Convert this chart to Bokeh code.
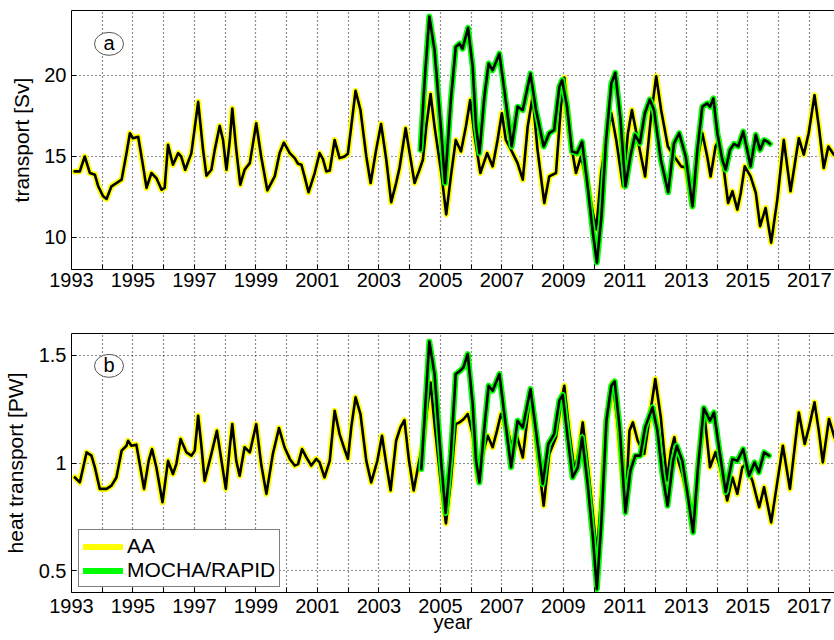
from bokeh.plotting import figure
from bokeh.layouts import column
from bokeh.models import FixedTicker, Legend, LegendItem, Label, Range1d, LinearAxis
from bokeh.embed import file_html
from bokeh.resources import INLINE

FONT = "Liberation Sans"

# ---------------- data ----------------
aa_year_a = [1993.1, 1993.27, 1993.43, 1993.6, 1993.76, 1993.87, 1994.03, 1994.14, 1994.3, 1994.46,
             1994.63, 1994.79, 1994.9, 1995.0, 1995.17, 1995.33, 1995.44, 1995.6, 1995.76, 1995.93,
             1996.03, 1996.14, 1996.3, 1996.47, 1996.57, 1996.7, 1996.9, 1997.12, 1997.28, 1997.39,
             1997.55, 1997.66, 1997.82, 1997.93, 1998.04, 1998.15, 1998.23, 1998.36, 1998.49, 1998.63,
             1998.8, 1999.01, 1999.17, 1999.37, 1999.61, 1999.77, 1999.91, 2000.1, 2000.26, 2000.37,
             2000.48, 2000.58, 2000.71, 2000.91, 2001.07, 2001.18, 2001.29, 2001.4, 2001.56, 2001.72,
             2001.88, 2001.99, 2002.1, 2002.24, 2002.4, 2002.59, 2002.73, 2002.91, 2003.07, 2003.24,
             2003.4, 2003.56, 2003.67, 2003.87, 2004.0, 2004.16, 2004.32, 2004.43, 2004.54, 2004.68,
             2004.81, 2005.03, 2005.19, 2005.34, 2005.5, 2005.67, 2005.83, 2005.97, 2006.1, 2006.3,
             2006.52, 2006.7, 2006.86, 2007.0, 2007.13, 2007.3, 2007.51, 2007.68, 2007.84, 2008.0,
             2008.16, 2008.38, 2008.54, 2008.76, 2008.92, 2009.03, 2009.19, 2009.41, 2009.57, 2009.79,
             2009.96, 2010.07, 2010.23, 2010.39, 2010.56, 2010.72, 2010.94, 2011.1, 2011.23, 2011.42,
             2011.66, 2011.85, 2012.02, 2012.18, 2012.4, 2012.61, 2012.83, 2012.98, 2013.2, 2013.36,
             2013.52, 2013.68, 2013.79, 2013.95, 2014.06, 2014.22, 2014.36, 2014.5, 2014.66, 2014.77,
             2014.9, 2015.09, 2015.26, 2015.4, 2015.58, 2015.76, 2015.96, 2016.17, 2016.39, 2016.55,
             2016.66, 2016.82, 2016.98, 2017.17, 2017.31, 2017.47, 2017.62, 2017.8, 2017.95]
aa_val_a = [14.06, 14.06, 14.98, 13.96, 13.86, 13.14, 12.52, 12.36, 13.14, 13.34,
            13.55, 15.19, 16.42, 16.11, 16.2, 14.37, 13.04, 13.96, 13.65, 12.93,
            13.04, 15.7, 14.47, 15.19, 14.98, 14.16, 15.19, 18.36, 15.39, 13.8,
            14.16, 15.39, 16.87, 16.0, 14.16, 16.0, 17.95, 15.39, 13.24, 14.16,
            14.57, 17.03, 14.98, 12.89, 13.75, 15.19, 15.84, 15.19, 14.88, 14.53,
            14.47, 13.75, 12.77, 13.96, 15.19, 14.82, 14.06, 14.12, 16.0, 14.88,
            14.98, 15.15, 16.83, 19.04, 17.85, 14.98, 13.34, 15.39, 16.99, 14.78,
            12.16, 13.34, 14.27, 16.73, 15.19, 13.34, 14.16, 14.78, 16.83, 18.84,
            16.83, 13.96, 11.4, 13.75, 16.0, 15.29, 16.83, 18.47, 16.42, 13.96,
            15.19, 14.37, 16.0, 17.65, 16.0, 15.39, 14.57, 13.55, 16.83, 18.67,
            15.39, 12.11, 13.75, 13.96, 18.06, 19.86, 16.42, 13.96, 14.98, 13.34,
            11.5, 10.48, 13.96, 16.0, 17.65, 16.0, 13.14, 16.42, 17.85, 16.0,
            13.75, 17.44, 19.94, 17.85, 15.6, 14.98, 14.37, 14.3, 11.9, 14.78,
            16.42, 14.98, 13.75, 15.6, 16.0, 14.16, 12.11, 12.83, 11.7, 12.73,
            14.37, 13.75, 12.73, 10.68, 11.8, 9.66, 12.32, 16.0, 12.83, 14.78,
            16.11, 15.09, 16.42, 18.77, 16.83, 14.27, 15.6, 15.09, 15.0]

mocha_year_a = [2004.35, 2004.48, 2004.64, 2004.81, 2005.03, 2005.15, 2005.34, 2005.5, 2005.62, 2005.72,
                2005.9, 2006.05, 2006.16, 2006.27, 2006.43, 2006.57, 2006.7, 2006.92, 2007.08, 2007.32,
                2007.51, 2007.68, 2007.93, 2008.11, 2008.36, 2008.54, 2008.7, 2008.87, 2008.96, 2009.12,
                2009.28, 2009.45, 2009.61, 2009.79, 2009.96, 2010.09, 2010.24, 2010.39, 2010.56, 2010.69,
                2010.85, 2011.02, 2011.18, 2011.33, 2011.49, 2011.65, 2011.81, 2011.95, 2012.17, 2012.41,
                2012.6, 2012.77, 2012.98, 2013.2, 2013.36, 2013.52, 2013.68, 2013.77, 2013.88, 2014.01,
                2014.17, 2014.28, 2014.42, 2014.55, 2014.69, 2014.85, 2014.98, 2015.09, 2015.26, 2015.4,
                2015.53, 2015.64, 2015.72]
mocha_val_a = [15.39, 19.49, 23.63, 21.54, 16.42, 13.34, 18.47, 21.75, 21.95, 21.64,
               22.93, 20.52, 16.83, 15.19, 18.67, 20.72, 20.31, 21.34, 19.08, 15.6,
               18.06, 17.85, 20.1, 17.85, 15.6, 16.42, 16.62, 19.29, 19.7, 18.06,
               15.29, 15.19, 15.9, 13.14, 10.27, 8.43, 11.3, 16.0, 19.49, 20.15,
               17.44, 13.14, 14.98, 16.32, 15.8, 17.65, 18.5, 17.85, 14.78, 12.77,
               15.8, 16.42, 14.98, 11.9, 15.39, 18.06, 18.26, 18.06, 18.57, 16.42,
               14.78, 14.16, 15.39, 15.76, 15.6, 16.52, 15.39, 14.37, 16.32, 15.39,
               16.0, 15.9, 15.76]

aa_year_b = [1993.11, 1993.27, 1993.49, 1993.65, 1993.76, 1993.92, 1994.14, 1994.3, 1994.46, 1994.63,
             1994.79, 1994.84, 1994.95, 1995.11, 1995.22, 1995.36, 1995.51, 1995.62, 1995.76, 1995.96,
             1996.14, 1996.3, 1996.41, 1996.55, 1996.74, 1996.9, 1997.01, 1997.12, 1997.23, 1997.33,
             1997.55, 1997.73, 1997.88, 1998.02, 1998.15, 1998.23, 1998.36, 1998.47, 1998.63, 1998.8,
             1999.01, 1999.17, 1999.34, 1999.55, 1999.75, 1999.93, 2000.1, 2000.26, 2000.37, 2000.5,
             2000.64, 2000.8, 2000.96, 2001.07, 2001.23, 2001.4, 2001.56, 2001.72, 2001.86, 2001.99,
             2002.1, 2002.24, 2002.4, 2002.59, 2002.75, 2002.95, 2003.1, 2003.24, 2003.38, 2003.56,
             2003.7, 2003.83, 2003.98, 2004.13, 2004.29, 2004.43, 2004.56, 2004.68, 2004.81, 2005.03,
             2005.18, 2005.34, 2005.5, 2005.62, 2005.76, 2005.89, 2006.05, 2006.23, 2006.37, 2006.54,
             2006.7, 2006.84, 2006.97, 2007.19, 2007.35, 2007.5, 2007.68, 2007.93, 2008.16, 2008.36,
             2008.54, 2008.76, 2008.92, 2009.03, 2009.19, 2009.36, 2009.49, 2009.63, 2009.79, 2009.96,
             2010.09, 2010.24, 2010.4, 2010.6, 2010.76, 2011.02, 2011.15, 2011.26, 2011.42, 2011.63,
             2011.79, 2011.99, 2012.17, 2012.37, 2012.5, 2012.61, 2012.74, 2012.85, 2013.04, 2013.22,
             2013.38, 2013.57, 2013.77, 2013.95, 2014.1, 2014.33, 2014.5, 2014.66, 2014.82, 2014.93,
             2015.15, 2015.37, 2015.53, 2015.76, 2015.9, 2016.14, 2016.37, 2016.5, 2016.66, 2016.85,
             2016.99, 2017.17, 2017.31, 2017.44, 2017.64, 2017.82, 2017.95]
aa_val_b = [0.933, 0.91, 1.049, 1.034, 0.98, 0.88, 0.88, 0.895, 0.933, 1.057,
            1.08, 1.103, 1.08, 1.085, 0.995, 0.88, 1.01, 1.064, 0.98, 0.818,
            1.01, 0.949, 0.995, 1.111, 1.049, 1.034, 1.057, 1.219, 1.073, 0.918,
            1.042, 1.149, 1.01, 0.88, 1.073, 1.18, 1.01, 0.941, 1.073, 1.049,
            1.18, 0.995, 0.857, 1.042, 1.162, 1.073, 1.019, 0.988, 0.995, 1.064,
            1.026, 0.988, 1.019, 1.003, 0.933, 1.01, 1.242, 1.134, 1.073, 1.019,
            1.165, 1.304, 1.226, 1.01, 0.91, 1.01, 1.126, 0.995, 0.873, 1.103,
            1.165, 1.199, 1.01, 0.873, 0.995, 1.088, 1.242, 1.373, 1.18, 0.888,
            0.72, 0.918, 1.18, 1.188, 1.204, 1.227, 1.134, 0.918, 1.042, 1.126,
            1.073, 1.149, 1.227, 1.15, 1.06, 1.12, 1.026, 1.327, 1.042, 0.802,
            1.042, 1.119, 1.273, 1.358, 1.149, 0.964, 1.042, 1.188, 0.995, 0.764,
            0.578, 0.856, 1.196, 1.373, 1.196, 0.779, 1.149, 1.188, 1.103, 1.042,
            1.196, 1.389, 1.211, 0.918, 1.057, 1.119, 1.01, 0.957, 0.856, 0.686,
            0.98, 1.25, 0.98, 1.05, 0.98, 0.826, 0.933, 0.857, 0.98, 0.995,
            0.918, 0.795, 0.888, 0.725, 0.856, 1.08, 0.88, 1.042, 1.234, 1.088,
            1.165, 1.281, 1.149, 1.003, 1.204, 1.119, 1.08]

mocha_year_b = [2004.38, 2004.48, 2004.64, 2004.81, 2005.03, 2005.17, 2005.34, 2005.5, 2005.64, 2005.75,
                2005.89, 2006.05, 2006.16, 2006.27, 2006.43, 2006.57, 2006.7, 2006.92, 2007.08, 2007.3,
                2007.51, 2007.68, 2007.93, 2008.11, 2008.33, 2008.51, 2008.7, 2008.87, 2008.98, 2009.14,
                2009.3, 2009.47, 2009.61, 2009.79, 2009.96, 2010.09, 2010.24, 2010.4, 2010.56, 2010.67,
                2010.83, 2011.02, 2011.18, 2011.34, 2011.5, 2011.66, 2011.9, 2012.06, 2012.22, 2012.39,
                2012.57, 2012.69, 2012.87, 2013.04, 2013.22, 2013.38, 2013.57, 2013.77, 2013.9, 2014.06,
                2014.28, 2014.5, 2014.66, 2014.85, 2015.04, 2015.22, 2015.36, 2015.53, 2015.69]
mocha_val_b = [0.972, 1.196, 1.563, 1.412, 0.995, 0.768, 1.042, 1.412, 1.427, 1.443,
               1.505, 1.273, 1.01, 0.91, 1.165, 1.358, 1.335, 1.412, 1.227, 0.98,
               1.196, 1.165, 1.343, 1.149, 0.903, 1.088, 1.134, 1.289, 1.316, 1.119,
               0.933, 0.98, 1.119, 0.903, 0.656, 0.416, 0.733, 1.196, 1.358, 1.378,
               1.165, 0.771, 0.964, 1.034, 1.034, 1.165, 1.258, 1.149, 0.949, 0.802,
               1.01, 1.08, 1.01, 0.856, 0.679, 0.98, 1.255, 1.196, 1.234, 1.073,
               0.865, 1.019, 1.01, 1.064, 0.941, 1.003, 0.957, 1.049, 1.034]

x_ticks = list(range(1993, 2019))
x_tick_labels = {float(y): (str(y) if y % 2 == 1 else "") for y in x_ticks}
yticks_a = [10, 15, 20]
ylabels_a = {10.0: "10", 15.0: "15", 20.0: "20"}
yticks_b = [0.5, 1.0, 1.5]
ylabels_b = {0.5: "0.5", 1.0: "1", 1.5: "1.5"}
series_names = ["AA", "MOCHA/RAPID"]

X_START, X_END = 1993, 2017.82
YLIM_A = (8, 24)
YLIM_B = (0.4, 1.6)

YELLOW = "#ffff00"
GREEN = "#00ff00"


def make_fig(height, top, bottom, ylim, yticks, ylabels, ylabel, lab_std, x_std, xlabel=None):
    p = figure(width=834, height=height, x_range=Range1d(X_START, X_END), y_range=Range1d(*ylim),
               output_backend="svg", toolbar_location=None,
               min_border_left=70, min_border_right=0, min_border_top=top, min_border_bottom=bottom)
    p.background_fill_color = "white"
    p.border_fill_color = "white"
    p.outline_line_color = None
    xa = p.below[0]
    ya = p.left[0]
    xa.ticker = FixedTicker(ticks=x_ticks)
    xa.major_label_overrides = x_tick_labels
    xa.major_label_standoff = x_std
    if xlabel:
        xa.axis_label = xlabel
        xa.axis_label_standoff = -5
        xa.axis_label_text_font = FONT
        xa.axis_label_text_font_size = "20px"
        xa.axis_label_text_font_style = "normal"
        xa.axis_label_text_color = "black"
    ya.ticker = FixedTicker(ticks=yticks)
    ya.major_label_overrides = ylabels
    ya.axis_label = ylabel
    ya.axis_label_standoff = lab_std
    ya.axis_label_text_font = FONT
    ya.axis_label_text_font_size = "21px"
    ya.axis_label_text_font_style = "normal"
    ya.axis_label_text_color = "black"
    for ax in (xa, ya):
        ax.major_tick_in = 5
        ax.major_tick_out = 0
        ax.minor_tick_in = 0
        ax.minor_tick_out = 0
        ax.axis_line_color = "black"
        ax.major_tick_line_color = "black"
        ax.major_label_text_font = FONT
        ax.major_label_text_font_size = "20px"
        ax.major_label_text_color = "black"
    ya.major_label_standoff = 5
    # top frame edge (the right edge lies outside the picture)
    top_ax = LinearAxis(ticker=FixedTicker(ticks=[]), axis_line_color="black",
                        major_tick_in=0, major_tick_out=0, minor_tick_in=0, minor_tick_out=0,
                        major_label_text_font_size="0px")
    p.add_layout(top_ax, "above")
    for g in (p.xgrid[0], p.ygrid[0]):
        g.grid_line_color = "black"
        g.grid_line_dash = "1 3"
        g.grid_line_width = 1.2
        g.grid_line_alpha = 0.9
    p.xgrid[0].ticker = FixedTicker(ticks=x_ticks)
    p.ygrid[0].ticker = FixedTicker(ticks=yticks)
    return p


def add_series(p, xa_, ya_, xm_, ym_):
    r_aa = p.line(xa_, ya_, line_color=YELLOW, line_width=6, line_join="round", line_cap="round")
    p.line(xa_, ya_, line_color="black", line_width=2.6, line_join="round", line_cap="round")
    r_mo = p.line(xm_, ym_, line_color=GREEN, line_width=6, line_join="round", line_cap="round")
    p.line(xm_, ym_, line_color="black", line_width=2.6, line_join="round", line_cap="round")
    return r_aa, r_mo


def add_tag(p, x, y, txt):
    p.ellipse(x=[x], y=[y], width=29, height=23, width_units="screen", height_units="screen",
              fill_color="white", line_color="#555555", line_width=1)
    p.add_layout(Label(x=x, y=y, text=txt, text_align="center", text_baseline="middle",
                       text_font=FONT, text_font_size="20px", text_color="black", y_offset=1))


# panel a
pa = make_fig(303, 10, 34, YLIM_A, yticks_a, ylabels_a, "transport [Sv]", 8, 3)
add_series(pa, aa_year_a, aa_val_a, mocha_year_a, mocha_val_a)
add_tag(pa, 1994.22, 21.94, "a")

# panel b
pb = make_fig(337, 30, 48, YLIM_B, yticks_b, ylabels_b, "heat transport [PW]", 9, 6, xlabel="year")
r_aa, r_mo = add_series(pb, aa_year_b, aa_val_b, mocha_year_b, mocha_val_b)
add_tag(pb, 1994.22, 1.45, "b")

legend = Legend(items=[LegendItem(label=series_names[0], renderers=[r_aa]),
                       LegendItem(label=series_names[1], renderers=[r_mo])],
                location=(7, 5), glyph_width=40, glyph_height=21, label_height=21,
                spacing=0, padding=4, label_standoff=4, margin=0,
                label_text_font=FONT, label_text_font_size="21px", label_text_color="black",
                border_line_color="black", border_line_width=1, background_fill_color="white",
                background_fill_alpha=1.0)
pb.add_layout(legend)

layout = column(pa, pb, spacing=0)
open("out.html", "w").write(file_html(layout, INLINE))
